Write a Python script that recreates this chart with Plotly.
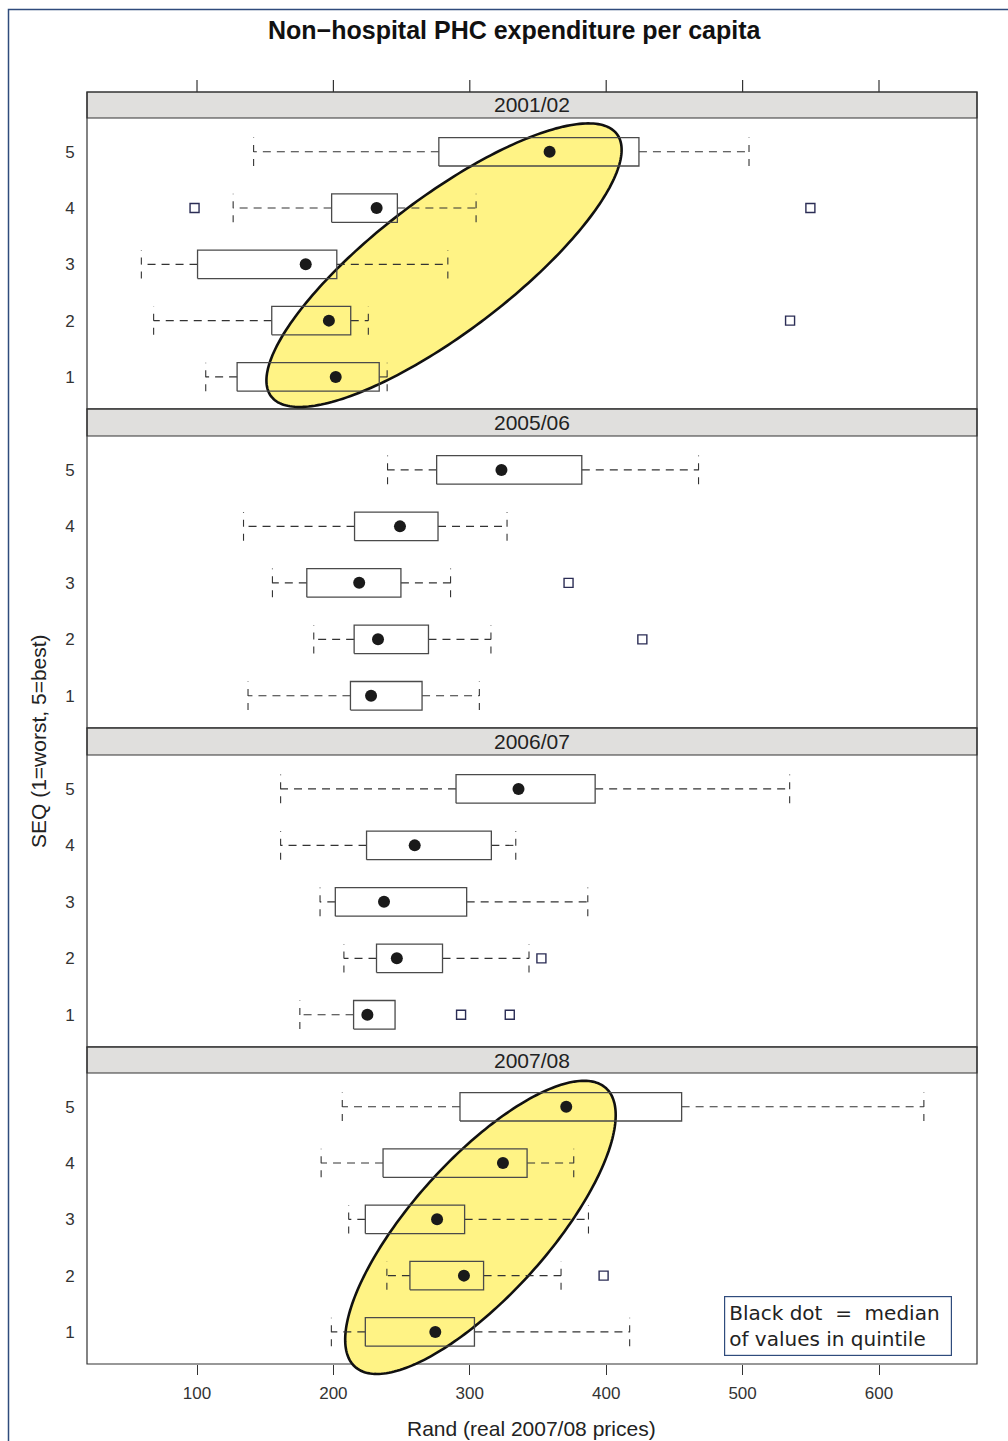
import numpy as np
import plotly.graph_objects as go

# ---------------- data ----------------
years = ["2001/02", "2005/06", "2006/07", "2007/08"]
quintiles = [1, 2, 3, 4, 5]
x_ticks = [100, 200, 300, 400, 500, 600]

low_0102 = [106.4, 68.2, 59.2, 126.5, 141.5]
q1_0102 = [129.4, 154.8, 100.4, 198.7, 277.3]
med_0102 = [201.7, 196.7, 179.7, 231.7, 358.5]
q3_0102 = [233.6, 212.7, 202.5, 246.9, 424.0]
high_0102 = [239.4, 225.6, 283.9, 304.6, 504.7]
out_q_0102 = [2, 4, 4]
out_v_0102 = [534.8, 98.2, 549.7]

low_0506 = [137.4, 185.6, 155.3, 134.1, 239.7]
q1_0506 = [212.5, 215.2, 180.5, 215.5, 275.7]
med_0506 = [227.6, 232.7, 218.9, 248.8, 323.2]
q3_0506 = [265.0, 269.7, 249.5, 276.7, 382.1]
high_0506 = [307.0, 315.5, 285.9, 327.3, 467.7]
out_q_0506 = [2, 3]
out_v_0506 = [426.5, 372.4]

low_0607 = [175.4, 207.7, 190.2, 161.3, 161.3]
q1_0607 = [214.8, 231.6, 201.4, 224.3, 289.9]
med_0607 = [224.9, 246.5, 237.1, 259.6, 335.7]
q3_0607 = [245.2, 280.0, 297.7, 315.8, 391.9]
high_0607 = [245.2, 343.4, 386.5, 333.7, 534.5]
out_q_0607 = [1, 1, 2]
out_v_0607 = [293.6, 329.3, 352.5]

low_0708 = [198.5, 239.2, 211.2, 191.0, 206.5]
q1_0708 = [223.4, 256.1, 223.4, 236.4, 292.8]
med_0708 = [274.7, 295.7, 276.0, 324.3, 370.7]
q3_0708 = [303.4, 310.1, 296.2, 342.0, 455.3]
high_0708 = [417.2, 366.9, 387.0, 376.2, 632.9]
out_q_0708 = [2]
out_v_0708 = [398.1]

panels = [
    (low_0102, q1_0102, med_0102, q3_0102, high_0102, out_q_0102, out_v_0102),
    (low_0506, q1_0506, med_0506, q3_0506, high_0506, out_q_0506, out_v_0506),
    (low_0607, q1_0607, med_0607, q3_0607, high_0607, out_q_0607, out_v_0607),
    (low_0708, q1_0708, med_0708, q3_0708, high_0708, out_q_0708, out_v_0708),
]

# highlight ellipses (panel index, centre x, centre y, semi-axes in px, angle deg)
ellipses = [
    (0, 281.1, 2.985, 217.0, 67.5, 37.2),
    (3, 307.8, 2.857, 187.5, 68.0, 48.0),
]

# ---------------- layout geometry ----------------
W, H = 1008, 1441
ML, MR, MT, MB = 87, 31, 92, 77
PW, PH = W - ML - MR, H - MT - MB
X_RANGE = [19.35, 671.85]
Y_RANGE = [0.43, 5.6]
strips = [(92, 118), (409, 436), (728, 755), (1047, 1073)]
plots = [(118, 409), (436, 728), (755, 1047), (1073, 1364)]


def ppy(py):
    return (MT + PH - py) / PH


def ppx(px):
    return (px - ML) / PW


def data_to_paper(i, xv, yv):
    p0, p1 = plots[i]
    px = ML + (xv - X_RANGE[0]) / (X_RANGE[1] - X_RANGE[0]) * PW
    py = p1 - (yv - Y_RANGE[0]) / (Y_RANGE[1] - Y_RANGE[0]) * (p1 - p0)
    return ppx(px), ppy(py)


FONT = "Liberation Sans, Arial, Helvetica, sans-serif"
HALF = 0.253  # half box height in y units

fig = go.Figure()

for i, (lo, q1, md, q3, hi, oq, ov) in enumerate(panels):
    ya = "y" if i == 0 else f"y{i+1}"
    bx, by, wx, wy, cxs, cys = [], [], [], [], [], []
    for k, r in enumerate(quintiles):
        bx += [q1[k], q3[k], q3[k], q1[k], q1[k], None]
        by += [r - HALF, r - HALF, r + HALF, r + HALF, r - HALF, None]
        if lo[k] < q1[k]:
            wx += [q1[k], lo[k], None]
            wy += [r, r, None]
            cxs += [lo[k], lo[k], None]
            cys += [r - HALF, r + HALF, None]
        if hi[k] > q3[k]:
            wx += [q3[k], hi[k], None]
            wy += [r, r, None]
            cxs += [hi[k], hi[k], None]
            cys += [r - HALF, r + HALF, None]
    fig.add_trace(go.Scatter(x=wx, y=wy, mode="lines", xaxis="x", yaxis=ya,
                             line=dict(color="#333333", width=1.1, dash="8px,6px"),
                             hoverinfo="skip", showlegend=False))
    fig.add_trace(go.Scatter(x=cxs, y=cys, mode="lines", xaxis="x", yaxis=ya,
                             line=dict(color="#333333", width=1.1, dash="7px,7px"),
                             hoverinfo="skip", showlegend=False))
    fig.add_trace(go.Scatter(x=bx, y=by, mode="lines", xaxis="x", yaxis=ya,
                             line=dict(color="#4a4a4a", width=1.3),
                             hoverinfo="skip", showlegend=False))
    fig.add_trace(go.Scatter(x=md, y=quintiles, mode="markers", xaxis="x", yaxis=ya,
                             marker=dict(color="#1a1a1a", size=12, symbol="circle"),
                             hoverinfo="skip", showlegend=False))
    fig.add_trace(go.Scatter(x=ov, y=oq, mode="markers", xaxis="x", yaxis=ya,
                             marker=dict(color="#2b2d55", size=9, symbol="square-open",
                                         line=dict(width=1.4, color="#2b2d55")),
                             hoverinfo="skip", showlegend=False))

layout = dict(
    width=W, height=H,
    margin=dict(l=ML, r=MR, t=MT, b=MB),
    paper_bgcolor="white", plot_bgcolor="rgba(0,0,0,0)",
    font=dict(family=FONT, color="#333333", size=17),
    showlegend=False,
    xaxis=dict(range=X_RANGE, domain=[0, 1], anchor="y4", tickvals=x_ticks,
               ticks="outside", ticklen=10, tickwidth=1.2, tickcolor="#333333",
               showline=False, showgrid=False, zeroline=False,
               tickfont=dict(size=17, color="#333333"), ticklabelstandoff=4),
)
for i, (p0, p1) in enumerate(plots):
    key = "yaxis" if i == 0 else f"yaxis{i+1}"
    layout[key] = dict(range=Y_RANGE, domain=[ppy(p1), ppy(p0)], anchor="x",
                       tickvals=quintiles, ticks="outside", ticklen=8,
                       tickcolor="rgba(0,0,0,0)", showgrid=False, zeroline=False,
                       showline=False, tickfont=dict(size=17, color="#333333"))
fig.update_layout(**layout)

shapes = []
annotations = []
for i in range(4):
    s0, s1 = strips[i]
    p0, p1 = plots[i]
    shapes.append(dict(type="rect", xref="paper", yref="paper", x0=0, x1=1,
                       y0=ppy(s1), y1=ppy(s0), fillcolor="#e0dfdd",
                       line=dict(color="#333333", width=1.2), layer="below"))
    shapes.append(dict(type="rect", xref="paper", yref="paper", x0=0, x1=1,
                       y0=ppy(p1), y1=ppy(s0), fillcolor="rgba(0,0,0,0)",
                       line=dict(color="#333333", width=1.2), layer="below"))
    annotations.append(dict(text=years[i], xref="paper", yref="paper", x=0.5,
                            y=ppy((s0 + s1) / 2), xanchor="center", yanchor="middle",
                            showarrow=False, font=dict(size=21, color="#222222", family=FONT)))

# highlight ellipses (drawn over the frames, under the boxes, not clipped)
for (pi, cx, cy, a, b, ang) in ellipses:
    ph = plots[pi][1] - plots[pi][0]
    sx = PW / (X_RANGE[1] - X_RANGE[0])
    sy = ph / (Y_RANGE[1] - Y_RANGE[0])
    t = np.linspace(0, 2 * np.pi, 241)[:-1]
    th = np.deg2rad(ang)
    dx = a * np.cos(t) * np.cos(th) - b * np.sin(t) * np.sin(th)
    dy = a * np.cos(t) * np.sin(th) + b * np.sin(t) * np.cos(th)
    pts = [data_to_paper(pi, cx + u / sx, cy + v / sy) for u, v in zip(dx, dy)]
    path = "M " + " L ".join(f"{px:.5f},{py:.5f}" for px, py in pts) + " Z"
    shapes.append(dict(type="path", xref="paper", yref="paper", path=path,
                       fillcolor="#FFF385", line=dict(color="#111111", width=2.6),
                       layer="below"))

# top tick marks
for v in x_ticks:
    shapes.append(dict(type="line", xref="x", yref="paper", x0=v, x1=v,
                       y0=ppy(92), y1=ppy(80), line=dict(color="#333333", width=1.2)))
# outer navy frame
shapes.append(dict(type="rect", xref="paper", yref="paper",
                   x0=ppx(8.5), x1=ppx(1030), y0=ppy(1470), y1=ppy(9.5),
                   line=dict(color="#2f4b7c", width=1.5), fillcolor="rgba(0,0,0,0)"))

annotations.append(dict(text="<b>Non\u2212hospital PHC expenditure per capita</b>",
                        xref="paper", yref="paper", x=ppx(514.5), y=ppy(30),
                        xanchor="center", yanchor="middle", showarrow=False,
                        font=dict(size=25, color="#111111", family=FONT)))
annotations.append(dict(text="Rand (real 2007/08 prices)", xref="paper", yref="paper",
                        x=ppx(531), y=ppy(1428), xanchor="center", yanchor="middle",
                        showarrow=False, font=dict(size=21, color="#222222", family=FONT)))
annotations.append(dict(text="SEQ (1=worst, 5=best)", xref="paper", yref="paper",
                        x=ppx(38), y=ppy(741), xanchor="center", yanchor="middle",
                        textangle=-90, showarrow=False,
                        font=dict(size=21, color="#222222", family=FONT)))
annotations.append(dict(text="Black dot\u00a0 =\u00a0 median<br>of values in quintile",
                        xref="paper", yref="paper", x=ppx(724), y=ppy(1296),
                        xanchor="left", yanchor="top", align="left", showarrow=False,
                        width=218, borderpad=4, bordercolor="#2f4b7c", borderwidth=1.2,
                        bgcolor="white",
                        font=dict(size=20, color="#222222", family="DejaVu Sans, sans-serif")))

fig.update_layout(shapes=shapes, annotations=annotations)
fig.write_html("out.html", config={"displayModeBar": False},
               post_script="document.body.style.margin='0';document.body.style.overflow='hidden';")
